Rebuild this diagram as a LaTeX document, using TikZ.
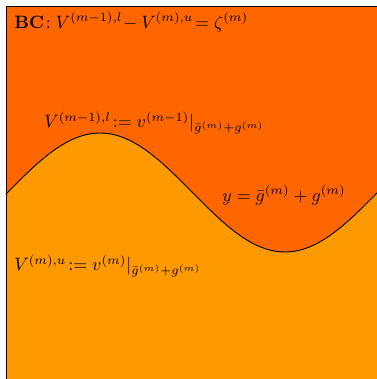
\documentclass[tikz,border=0pt]{standalone}
\usepackage{amsmath,amssymb}
\usepackage{tikz}
\usetikzlibrary{calc}
\usepackage{xcolor}
\definecolor{upper}{HTML}{FF6600}
\definecolor{lower}{HTML}{FF9900}

\begin{document}
\begin{tikzpicture}[x=0.03cm, y=0.03cm, lbl/.style={anchor=west, inner sep=0pt, scale=1.53}]
    \useasboundingbox (0,0) rectangle (377,379);
    \clip (0,0) rectangle (377,379);

    % the two layers
    \fill[upper] (6,0) rectangle (380,373);
    \fill[lower] (6,0) -- plot[domain=6:380, samples=120] (\x, {186.5+59.5*cos((\x-100)*0.973)}) -- (380,0) -- cycle;
    \draw[thick] plot[domain=6:380, samples=120] (\x, {186.5+59.5*cos((\x-100)*0.973)});

    % frame
    \draw[thick] (6,0) -- (6,373) -- (380,373);

    \node[lbl] (bc) at (14,357) {$\mathbf{BC}\!: V^{(m-1),l}\!- V^{(m),u}\!= \zeta^{(m)}$};
    \node[lbl] (top) at (44,256) {$V^{(m-1),l}\!:= v^{(m-1)}|_{\bar{g}^{(m)}+g^{(m)}}$};
    \node[lbl] (iface) at (222,184) {$y = \bar{g}^{(m)} + g^{(m)}$};
    \node[lbl] (bot) at (14,113) {$V^{(m),u}\!:= v^{(m)}|_{\bar{g}^{(m)}+g^{(m)}}$};
\end{tikzpicture}
\end{document}
